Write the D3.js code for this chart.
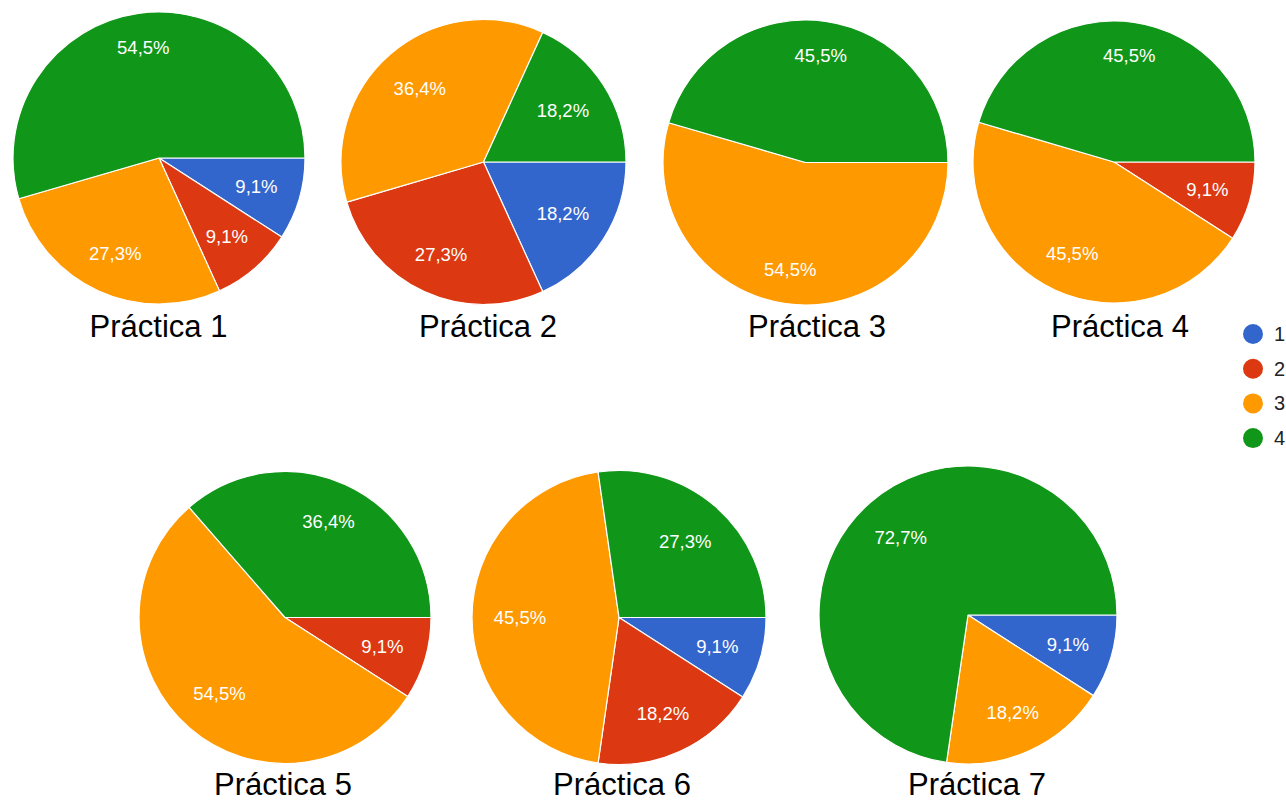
<!DOCTYPE html>
<html>
<head>
<meta charset="utf-8">
<script src="https://cdn.jsdelivr.net/npm/d3@7"></script>
<style>
  html, body { margin: 0; padding: 0; background: #ffffff; }
  svg { display: block; }
</style>
</head>
<body>
<svg id="chart" width="1286" height="802"></svg>
<script>
// Answer options (legend order, also the slice order going clockwise from 3 o'clock)
const categories = ["1", "2", "3", "4"];
const colors = ["#3366cc", "#dc3912", "#ff9900", "#109618"];

// Chart titles
const titles = ["Práctica 1", "Práctica 2", "Práctica 3", "Práctica 4",
                "Práctica 5", "Práctica 6", "Práctica 7"];

// Percentage of answers for options 1..4 in each práctica
const practica1 = [9.1, 9.1, 27.3, 54.5];
const practica2 = [18.2, 27.3, 36.4, 18.2];
const practica3 = [0, 0, 54.5, 45.5];
const practica4 = [0, 9.1, 45.5, 45.5];
const practica5 = [0, 9.1, 54.5, 36.4];
const practica6 = [9.1, 18.2, 45.5, 27.3];
const practica7 = [9.1, 0, 18.2, 72.7];
const series = [practica1, practica2, practica3, practica4, practica5, practica6, practica7];

// Placement of each pie (centre, radius) and of its title
const layout = [
  { cx: 159,   cy: 158,   r: 146,   tx: 158.5, ty: 337 },
  { cx: 483.5, cy: 162,   r: 142.5, tx: 488,   ty: 337 },
  { cx: 805.5, cy: 162.5, r: 142.5, tx: 817,   ty: 337 },
  { cx: 1114,  cy: 162,   r: 141,   tx: 1120,  ty: 337 },
  { cx: 285,   cy: 617.5, r: 146,   tx: 283,   ty: 795 },
  { cx: 619,   cy: 617.5, r: 147,   tx: 622,   ty: 795 },
  { cx: 968,   cy: 615,   r: 149,   tx: 977,   ty: 795 }
];

const FONT = "Arial, 'Liberation Sans', sans-serif";
const LABEL_SIZE = 18.5;
const svg = d3.select("#chart");

const color = d3.scaleOrdinal().domain(categories).range(colors);
const esLocale = d3.formatLocale({ decimal: ",", thousands: ".", grouping: [3], currency: ["", " €"] });
const fmtPct = v => esLocale.format(".1f")(v) + "%";

// Slices start at 3 o'clock and run clockwise
const pie = d3.pie()
  .sort(null)
  .value(d => d.value)
  .startAngle(Math.PI / 2)
  .endAngle(Math.PI / 2 + 2 * Math.PI);

series.forEach((vals, i) => {
  const L = layout[i];
  const rows = categories.map((c, k) => ({ cat: c, value: vals[k] }));
  const arcs = pie(rows).filter(d => d.data.value > 0);

  const arc = d3.arc().innerRadius(0).outerRadius(L.r);

  const g = svg.append("g").attr("transform", `translate(${L.cx},${L.cy})`);

  g.selectAll("path.slice")
    .data(arcs)
    .join("path")
    .attr("class", "slice")
    .attr("d", arc)
    .attr("fill", d => color(d.data.cat))
    .attr("stroke", "#ffffff")
    .attr("stroke-width", 1.2)
    .attr("stroke-linejoin", "round");

  // Percent labels: the outer corner of each text box sits at a fixed
  // fraction of the radius along the slice's bisector.
  g.selectAll("text.pct")
    .data(arcs)
    .join("text")
    .attr("class", "pct")
    .attr("text-anchor", "middle")
    .attr("dominant-baseline", "central")
    .attr("fill", "#ffffff")
    .style("font-family", FONT)
    .style("font-size", LABEL_SIZE + "px")
    .text(d => fmtPct(d.data.value))
    .attr("transform", function (d) {
      const a = (d.startAngle + d.endAngle) / 2;
      const ux = Math.sin(a), uy = -Math.cos(a);
      const hw = this.getBBox().width / 2;
      const hh = LABEL_SIZE / 2;
      const dist = 0.852 * L.r - Math.abs(ux) * hw - Math.abs(uy) * hh;
      return `translate(${ux * dist},${uy * dist})`;
    });

  svg.append("text")
    .attr("x", L.tx)
    .attr("y", L.ty)
    .attr("text-anchor", "middle")
    .attr("fill", "#000000")
    .style("font-family", FONT)
    .style("font-size", "31px")
    .text(titles[i]);
});

// Legend
const legend = svg.append("g").attr("transform", "translate(1253,334)");
const item = legend.selectAll("g.item")
  .data(categories)
  .join("g")
  .attr("class", "item")
  .attr("transform", (d, k) => `translate(0,${k * 34.7})`);

item.append("circle")
  .attr("r", 10)
  .attr("fill", d => color(d));

item.append("text")
  .attr("x", 21)
  .attr("y", 0)
  .attr("dominant-baseline", "central")
  .attr("fill", "#222222")
  .style("font-family", FONT)
  .style("font-size", "20px")
  .text(d => d);
</script>
</body>
</html>
